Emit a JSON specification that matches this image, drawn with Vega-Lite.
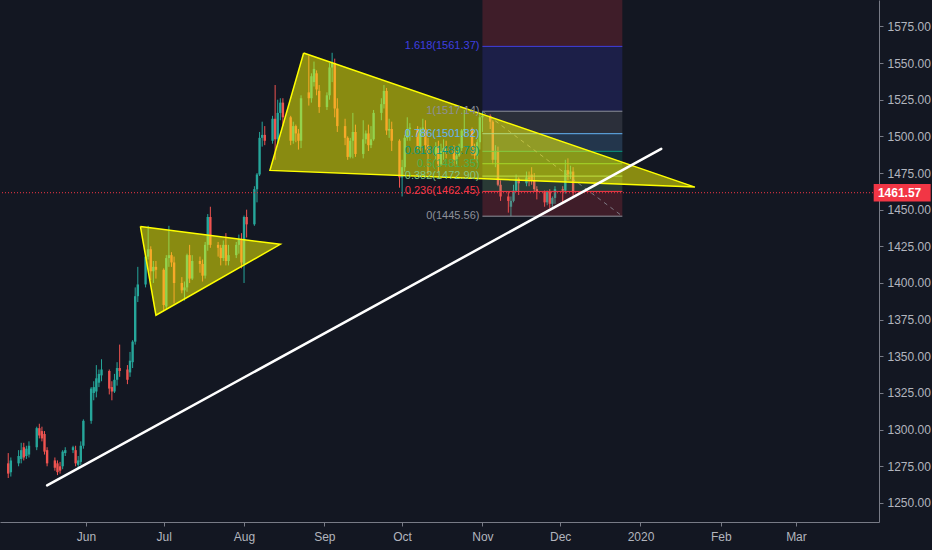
{
  "$schema": "https://vega.github.io/schema/vega-lite/v6.json",
  "width": 879,
  "height": 522,
  "autosize": {"type": "none"},
  "padding": {"left": 0, "top": 0, "right": 53, "bottom": 28},
  "background": "#131722",
  "config": {
    "view": {"stroke": null},
    "font": "Liberation Sans Narrow, Liberation Sans, sans-serif",
    "axis": {
      "grid": false,
      "domainColor": "#787b86",
      "tickColor": "#787b86",
      "labelColor": "#b2b5be",
      "labelFontSize": 12,
      "tickSize": 4
    }
  },
  "datasets": {
    "candles": [
      {"date": "2019-05-02", "open": 1277, "high": 1284, "low": 1267, "close": 1270},
      {"date": "2019-05-03", "open": 1271, "high": 1281, "low": 1268, "close": 1279},
      {"date": "2019-05-06", "open": 1277, "high": 1286, "low": 1275, "close": 1282},
      {"date": "2019-05-07", "open": 1280, "high": 1291, "low": 1277, "close": 1286},
      {"date": "2019-05-08", "open": 1288, "high": 1291, "low": 1279, "close": 1281},
      {"date": "2019-05-09", "open": 1282, "high": 1289, "low": 1280, "close": 1287},
      {"date": "2019-05-10", "open": 1283, "high": 1292, "low": 1281, "close": 1289},
      {"date": "2019-05-13", "open": 1288, "high": 1302, "low": 1286, "close": 1301},
      {"date": "2019-05-14", "open": 1301, "high": 1304, "low": 1294, "close": 1296},
      {"date": "2019-05-15", "open": 1299, "high": 1302, "low": 1292, "close": 1294},
      {"date": "2019-05-16", "open": 1297, "high": 1299, "low": 1283, "close": 1285},
      {"date": "2019-05-17", "open": 1286, "high": 1288, "low": 1275, "close": 1277},
      {"date": "2019-05-20", "open": 1279, "high": 1281, "low": 1272, "close": 1274},
      {"date": "2019-05-21", "open": 1277, "high": 1279, "low": 1269, "close": 1271},
      {"date": "2019-05-22", "open": 1275, "high": 1278, "low": 1270, "close": 1272},
      {"date": "2019-05-23", "open": 1275, "high": 1286, "low": 1273, "close": 1285},
      {"date": "2019-05-24", "open": 1284, "high": 1288, "low": 1282, "close": 1286},
      {"date": "2019-05-27", "open": 1286, "high": 1289, "low": 1284, "close": 1288},
      {"date": "2019-05-28", "open": 1286, "high": 1289, "low": 1275, "close": 1277},
      {"date": "2019-05-29", "open": 1276, "high": 1282, "low": 1274, "close": 1279},
      {"date": "2019-05-30", "open": 1278, "high": 1292, "low": 1276, "close": 1289},
      {"date": "2019-05-31", "open": 1289, "high": 1307, "low": 1287, "close": 1306},
      {"date": "2019-06-03", "open": 1306, "high": 1329, "low": 1304, "close": 1328},
      {"date": "2019-06-04", "open": 1325, "high": 1333, "low": 1320, "close": 1329},
      {"date": "2019-06-05", "open": 1326, "high": 1344, "low": 1322, "close": 1335},
      {"date": "2019-06-06", "open": 1332, "high": 1341, "low": 1329, "close": 1338},
      {"date": "2019-06-07", "open": 1337, "high": 1348, "low": 1333, "close": 1341},
      {"date": "2019-06-10", "open": 1340, "high": 1341, "low": 1324, "close": 1328},
      {"date": "2019-06-11", "open": 1329, "high": 1333, "low": 1320, "close": 1326},
      {"date": "2019-06-12", "open": 1326, "high": 1338, "low": 1325, "close": 1334},
      {"date": "2019-06-13", "open": 1334, "high": 1346, "low": 1330, "close": 1342},
      {"date": "2019-06-14", "open": 1342, "high": 1358, "low": 1336, "close": 1340},
      {"date": "2019-06-17", "open": 1341, "high": 1344, "low": 1331, "close": 1334},
      {"date": "2019-06-18", "open": 1339, "high": 1353, "low": 1336, "close": 1347},
      {"date": "2019-06-19", "open": 1346, "high": 1361, "low": 1342, "close": 1360},
      {"date": "2019-06-20", "open": 1360, "high": 1397, "low": 1358, "close": 1391},
      {"date": "2019-06-21", "open": 1391, "high": 1411, "low": 1387, "close": 1399},
      {"date": "2019-06-24", "open": 1399, "high": 1419, "low": 1397, "close": 1418},
      {"date": "2019-06-25", "open": 1418, "high": 1439, "low": 1416, "close": 1423},
      {"date": "2019-06-26", "open": 1423, "high": 1425, "low": 1402, "close": 1408},
      {"date": "2019-06-27", "open": 1408, "high": 1415, "low": 1400, "close": 1411},
      {"date": "2019-06-28", "open": 1411, "high": 1415, "low": 1403, "close": 1409},
      {"date": "2019-07-01", "open": 1409, "high": 1410, "low": 1381, "close": 1385},
      {"date": "2019-07-02", "open": 1384, "high": 1419, "low": 1382, "close": 1417},
      {"date": "2019-07-03", "open": 1417, "high": 1439, "low": 1411, "close": 1419},
      {"date": "2019-07-04", "open": 1419, "high": 1421, "low": 1411, "close": 1414},
      {"date": "2019-07-05", "open": 1414, "high": 1418, "low": 1386, "close": 1400},
      {"date": "2019-07-08", "open": 1400, "high": 1404, "low": 1393, "close": 1395},
      {"date": "2019-07-09", "open": 1395, "high": 1401, "low": 1388, "close": 1397},
      {"date": "2019-07-10", "open": 1397, "high": 1420, "low": 1394, "close": 1419},
      {"date": "2019-07-11", "open": 1419, "high": 1426, "low": 1400, "close": 1403},
      {"date": "2019-07-12", "open": 1403, "high": 1419, "low": 1402, "close": 1415},
      {"date": "2019-07-15", "open": 1415, "high": 1418, "low": 1407, "close": 1413},
      {"date": "2019-07-16", "open": 1413, "high": 1416, "low": 1401, "close": 1405},
      {"date": "2019-07-17", "open": 1405, "high": 1428, "low": 1403, "close": 1426},
      {"date": "2019-07-18", "open": 1426, "high": 1447, "low": 1422, "close": 1445},
      {"date": "2019-07-19", "open": 1445, "high": 1452, "low": 1424, "close": 1426},
      {"date": "2019-07-22", "open": 1426, "high": 1428, "low": 1418, "close": 1424},
      {"date": "2019-07-23", "open": 1424, "high": 1426, "low": 1412, "close": 1417},
      {"date": "2019-07-24", "open": 1417, "high": 1429, "low": 1415, "close": 1426},
      {"date": "2019-07-25", "open": 1426, "high": 1434, "low": 1412, "close": 1415},
      {"date": "2019-07-26", "open": 1415, "high": 1426, "low": 1412, "close": 1419},
      {"date": "2019-07-29", "open": 1419, "high": 1428, "low": 1417, "close": 1426},
      {"date": "2019-07-30", "open": 1426, "high": 1433, "low": 1420, "close": 1430},
      {"date": "2019-07-31", "open": 1430, "high": 1434, "low": 1410, "close": 1414},
      {"date": "2019-08-01", "open": 1413, "high": 1446, "low": 1400, "close": 1445},
      {"date": "2019-08-02", "open": 1445, "high": 1450, "low": 1431, "close": 1440},
      {"date": "2019-08-05", "open": 1440, "high": 1466, "low": 1439, "close": 1464},
      {"date": "2019-08-06", "open": 1464, "high": 1475, "low": 1455, "close": 1474},
      {"date": "2019-08-07", "open": 1474, "high": 1503, "low": 1473, "close": 1499},
      {"date": "2019-08-08", "open": 1499, "high": 1510, "low": 1493, "close": 1501},
      {"date": "2019-08-09", "open": 1501, "high": 1507, "low": 1494, "close": 1497},
      {"date": "2019-08-12", "open": 1497, "high": 1514, "low": 1495, "close": 1512},
      {"date": "2019-08-13", "open": 1512, "high": 1535, "low": 1484, "close": 1498},
      {"date": "2019-08-14", "open": 1498, "high": 1525, "low": 1495, "close": 1516},
      {"date": "2019-08-15", "open": 1516, "high": 1526, "low": 1511, "close": 1523},
      {"date": "2019-08-16", "open": 1523, "high": 1526, "low": 1507, "close": 1513},
      {"date": "2019-08-19", "open": 1513, "high": 1514, "low": 1494, "close": 1497},
      {"date": "2019-08-20", "open": 1497, "high": 1510, "low": 1495, "close": 1507},
      {"date": "2019-08-21", "open": 1507, "high": 1508, "low": 1496, "close": 1502},
      {"date": "2019-08-22", "open": 1502, "high": 1505, "low": 1491, "close": 1497},
      {"date": "2019-08-23", "open": 1497, "high": 1528, "low": 1492, "close": 1526},
      {"date": "2019-08-26", "open": 1530, "high": 1555, "low": 1521, "close": 1526},
      {"date": "2019-08-27", "open": 1526, "high": 1543, "low": 1523, "close": 1541},
      {"date": "2019-08-28", "open": 1537, "high": 1551, "low": 1534, "close": 1546},
      {"date": "2019-08-29", "open": 1543, "high": 1545, "low": 1528, "close": 1532},
      {"date": "2019-08-30", "open": 1531, "high": 1535, "low": 1516, "close": 1520},
      {"date": "2019-09-02", "open": 1520, "high": 1530, "low": 1518, "close": 1528},
      {"date": "2019-09-03", "open": 1528, "high": 1550, "low": 1525, "close": 1547},
      {"date": "2019-09-04", "open": 1547, "high": 1557, "low": 1537, "close": 1550},
      {"date": "2019-09-05", "open": 1550, "high": 1553, "low": 1513, "close": 1519},
      {"date": "2019-09-06", "open": 1519, "high": 1526, "low": 1503, "close": 1507},
      {"date": "2019-09-09", "open": 1507, "high": 1512, "low": 1494, "close": 1499},
      {"date": "2019-09-10", "open": 1499, "high": 1500, "low": 1484, "close": 1486},
      {"date": "2019-09-11", "open": 1486, "high": 1499, "low": 1485, "close": 1497},
      {"date": "2019-09-12", "open": 1497, "high": 1516, "low": 1485, "close": 1503},
      {"date": "2019-09-13", "open": 1503, "high": 1508, "low": 1486, "close": 1488},
      {"date": "2019-09-16", "open": 1488, "high": 1511, "low": 1485, "close": 1498},
      {"date": "2019-09-17", "open": 1498, "high": 1504, "low": 1495, "close": 1502},
      {"date": "2019-09-18", "open": 1502, "high": 1508, "low": 1490, "close": 1494},
      {"date": "2019-09-19", "open": 1494, "high": 1507, "low": 1492, "close": 1498},
      {"date": "2019-09-20", "open": 1498, "high": 1518, "low": 1497, "close": 1516},
      {"date": "2019-09-23", "open": 1516, "high": 1526, "low": 1511, "close": 1522},
      {"date": "2019-09-24", "open": 1522, "high": 1535, "low": 1519, "close": 1531},
      {"date": "2019-09-25", "open": 1531, "high": 1533, "low": 1501, "close": 1504},
      {"date": "2019-09-26", "open": 1504, "high": 1512, "low": 1499, "close": 1505},
      {"date": "2019-09-27", "open": 1505, "high": 1510, "low": 1490, "close": 1497},
      {"date": "2019-09-30", "open": 1497, "high": 1498, "low": 1465, "close": 1472},
      {"date": "2019-10-01", "open": 1472, "high": 1484, "low": 1459, "close": 1479},
      {"date": "2019-10-02", "open": 1479, "high": 1501, "low": 1476, "close": 1499},
      {"date": "2019-10-03", "open": 1499, "high": 1513, "low": 1497, "close": 1505},
      {"date": "2019-10-04", "open": 1505, "high": 1509, "low": 1497, "close": 1506},
      {"date": "2019-10-07", "open": 1505, "high": 1507, "low": 1491, "close": 1493},
      {"date": "2019-10-08", "open": 1493, "high": 1506, "low": 1490, "close": 1505},
      {"date": "2019-10-09", "open": 1505, "high": 1512, "low": 1500, "close": 1506},
      {"date": "2019-10-10", "open": 1505, "high": 1511, "low": 1491, "close": 1494},
      {"date": "2019-10-11", "open": 1494, "high": 1499, "low": 1474, "close": 1488},
      {"date": "2019-10-14", "open": 1488, "high": 1496, "low": 1484, "close": 1493},
      {"date": "2019-10-15", "open": 1493, "high": 1497, "low": 1476, "close": 1481},
      {"date": "2019-10-16", "open": 1481, "high": 1495, "low": 1480, "close": 1490},
      {"date": "2019-10-17", "open": 1490, "high": 1498, "low": 1484, "close": 1492},
      {"date": "2019-10-18", "open": 1492, "high": 1497, "low": 1485, "close": 1490},
      {"date": "2019-10-21", "open": 1490, "high": 1494, "low": 1480, "close": 1484},
      {"date": "2019-10-22", "open": 1484, "high": 1490, "low": 1481, "close": 1487},
      {"date": "2019-10-23", "open": 1487, "high": 1495, "low": 1486, "close": 1492},
      {"date": "2019-10-24", "open": 1492, "high": 1505, "low": 1490, "close": 1504},
      {"date": "2019-10-25", "open": 1504, "high": 1518, "low": 1500, "close": 1505},
      {"date": "2019-10-28", "open": 1505, "high": 1506, "low": 1487, "close": 1492},
      {"date": "2019-10-29", "open": 1492, "high": 1495, "low": 1484, "close": 1487},
      {"date": "2019-10-30", "open": 1487, "high": 1498, "low": 1482, "close": 1496},
      {"date": "2019-10-31", "open": 1496, "high": 1515, "low": 1491, "close": 1513},
      {"date": "2019-11-01", "open": 1513, "high": 1517, "low": 1503, "close": 1514},
      {"date": "2019-11-04", "open": 1514, "high": 1515, "low": 1505, "close": 1510},
      {"date": "2019-11-05", "open": 1510, "high": 1511, "low": 1481, "close": 1484},
      {"date": "2019-11-06", "open": 1484, "high": 1494, "low": 1479, "close": 1490},
      {"date": "2019-11-07", "open": 1490, "high": 1493, "low": 1466, "close": 1467},
      {"date": "2019-11-08", "open": 1467, "high": 1470, "low": 1456, "close": 1459},
      {"date": "2019-11-11", "open": 1459, "high": 1462, "low": 1448, "close": 1456},
      {"date": "2019-11-12", "open": 1452, "high": 1459, "low": 1445.56, "close": 1456},
      {"date": "2019-11-13", "open": 1456, "high": 1467, "low": 1455, "close": 1463},
      {"date": "2019-11-14", "open": 1463, "high": 1474, "low": 1462, "close": 1471},
      {"date": "2019-11-15", "open": 1471, "high": 1472, "low": 1460, "close": 1468},
      {"date": "2019-11-18", "open": 1468, "high": 1476, "low": 1466, "close": 1472},
      {"date": "2019-11-19", "open": 1472, "high": 1476, "low": 1466, "close": 1471},
      {"date": "2019-11-20", "open": 1474, "high": 1479, "low": 1467, "close": 1470},
      {"date": "2019-11-21", "open": 1470, "high": 1475, "low": 1462, "close": 1464},
      {"date": "2019-11-22", "open": 1464, "high": 1466, "low": 1457, "close": 1462},
      {"date": "2019-11-25", "open": 1462, "high": 1463, "low": 1452, "close": 1455},
      {"date": "2019-11-26", "open": 1455, "high": 1463, "low": 1453, "close": 1462},
      {"date": "2019-11-27", "open": 1462, "high": 1464, "low": 1451, "close": 1454},
      {"date": "2019-11-28", "open": 1454, "high": 1459, "low": 1452, "close": 1458},
      {"date": "2019-11-29", "open": 1458, "high": 1466, "low": 1454, "close": 1464},
      {"date": "2019-12-02", "open": 1464, "high": 1466, "low": 1455, "close": 1463},
      {"date": "2019-12-03", "open": 1463, "high": 1484, "low": 1461, "close": 1477},
      {"date": "2019-12-04", "open": 1477, "high": 1485, "low": 1470, "close": 1474},
      {"date": "2019-12-05", "open": 1474, "high": 1480, "low": 1471, "close": 1476},
      {"date": "2019-12-06", "open": 1476, "high": 1479, "low": 1458, "close": 1461.57}
    ],
    "triangles": [
      {"shape": "flag", "vertex": 1, "date": "2019-06-22", "price": 1438.6},
      {"shape": "flag", "vertex": 2, "date": "2019-06-28", "price": 1378.0},
      {"shape": "flag", "vertex": 3, "date": "2019-08-15", "price": 1426.4},
      {"shape": "flag", "vertex": 4, "date": "2019-06-22", "price": 1438.6},
      {"shape": "wedge", "vertex": 1, "date": "2019-08-24", "price": 1556.8},
      {"shape": "wedge", "vertex": 2, "date": "2019-08-11", "price": 1476.8},
      {"shape": "wedge", "vertex": 3, "date": "2020-01-22", "price": 1465.4},
      {"shape": "wedge", "vertex": 4, "date": "2019-08-24", "price": 1556.8}
    ],
    "trend": [
      {"date": "2019-05-17", "price": 1262.0},
      {"date": "2020-01-09", "price": 1491.5}
    ],
    "zones": [
      {"level": "0.236", "lo": 1445.56, "hi": 1462.45},
      {"level": "0.382", "lo": 1462.45, "hi": 1472.90},
      {"level": "0.5", "lo": 1472.90, "hi": 1481.35},
      {"level": "0.618", "lo": 1481.35, "hi": 1489.79},
      {"level": "0.786", "lo": 1489.79, "hi": 1501.82},
      {"level": "1", "lo": 1501.82, "hi": 1517.14},
      {"level": "1.618", "lo": 1517.14, "hi": 1561.37},
      {"level": "2.618", "lo": 1561.37, "hi": 1632.95}
    ],
    "levels": [
      {"level": "0", "price": 1445.56, "label": "0(1445.56)"},
      {"level": "0.236", "price": 1462.45, "label": "0.236(1462.45)"},
      {"level": "0.382", "price": 1472.90, "label": "0.382(1472.90)"},
      {"level": "0.5", "price": 1481.35, "label": "0.5(1481.35)"},
      {"level": "0.618", "price": 1489.79, "label": "0.618(1489.79)"},
      {"level": "0.786", "price": 1501.82, "label": "0.786(1501.82)"},
      {"level": "1", "price": 1517.14, "label": "1(1517.14)"},
      {"level": "1.618", "price": 1561.37, "label": "1.618(1561.37)"}
    ],
    "fibAnchor": [
      {"from": "2019-11-01", "to": "2019-12-25", "high": 1517.14, "low": 1445.56}
    ],
    "last": [{"price": 1461.57}]
  },
  "layer": [
    {
      "data": {"name": "candles"},
      "mark": {"type": "rule", "strokeWidth": 1},
      "encoding": {
        "x": {
          "field": "date",
          "type": "temporal",
          "title": null,
          "scale": {"domain": [1556647200000, 1585623168000], "nice": false},
          "axis": {
            "values": [
              {"year": 2019, "month": 6, "date": 1, "utc": true},
              {"year": 2019, "month": 7, "date": 1, "utc": true},
              {"year": 2019, "month": 8, "date": 1, "utc": true},
              {"year": 2019, "month": 9, "date": 1, "utc": true},
              {"year": 2019, "month": 10, "date": 1, "utc": true},
              {"year": 2019, "month": 11, "date": 1, "utc": true},
              {"year": 2019, "month": 12, "date": 1, "utc": true},
              {"year": 2020, "month": 1, "date": 1, "utc": true},
              {"year": 2020, "month": 2, "date": 1, "utc": true},
              {"year": 2020, "month": 3, "date": 1, "utc": true}
            ],
            "labelExpr": "utcmonth(datum.value) == 0 ? utcFormat(datum.value, '%Y') : utcFormat(datum.value, '%b')",
            "labelPadding": 5,
            "labelOverlap": false
          }
        },
        "y": {
          "field": "low",
          "type": "quantitative",
          "title": null,
          "scale": {"domain": [1237, 1593], "nice": false, "zero": false},
          "axis": {
            "orient": "right",
            "values": [1250, 1275, 1300, 1325, 1350, 1375, 1400, 1425, 1450, 1475, 1500, 1525, 1550, 1575],
            "format": ".2f",
            "labelPadding": 4
          }
        },
        "y2": {"field": "high"},
        "color": {"condition": {"test": "datum.close >= datum.open", "value": "#26a69a"}, "value": "#ef5350"}
      }
    },
    {
      "data": {"name": "candles"},
      "mark": {"type": "bar", "width": 2.4},
      "encoding": {
        "x": {"field": "date", "type": "temporal", "title": null},
        "y": {"field": "open", "type": "quantitative", "title": null},
        "y2": {"field": "close"},
        "color": {"condition": {"test": "datum.close >= datum.open", "value": "#26a69a"}, "value": "#ef5350"}
      }
    },
    {
      "data": {"name": "zones"},
      "mark": {"type": "rect", "opacity": 0.2, "clip": true},
      "encoding": {
        "x": {"datum": {"year": 2019, "month": 11, "date": 1, "utc": true}},
        "x2": {"datum": {"year": 2019, "month": 12, "date": 25, "utc": true}},
        "y": {"field": "lo", "type": "quantitative", "title": null},
        "y2": {"field": "hi"},
        "color": {
          "field": "level",
          "type": "nominal",
          "legend": null,
          "scale": {
            "domain": ["0", "0.236", "0.382", "0.5", "0.618", "0.786", "1", "1.618", "2.618"],
            "range": ["#8d909a", "#f23645", "#81c784", "#4caf50", "#089981", "#64b5f6", "#8d909a", "#3f3fe0", "#f23645"]
          }
        }
      }
    },
    {
      "data": {"name": "levels"},
      "mark": {"type": "rule", "strokeWidth": 1},
      "encoding": {
        "x": {"datum": {"year": 2019, "month": 11, "date": 1, "utc": true}},
        "x2": {"datum": {"year": 2019, "month": 12, "date": 25, "utc": true}},
        "y": {"field": "price", "type": "quantitative", "title": null},
        "color": {"field": "level", "type": "nominal", "legend": null}
      }
    },
    {
      "data": {"name": "fibAnchor"},
      "mark": {"type": "rule", "strokeWidth": 1, "strokeDash": [4, 4], "color": "#8d909a", "opacity": 0.8},
      "encoding": {
        "x": {"field": "from", "type": "temporal", "title": null},
        "x2": {"field": "to"},
        "y": {"field": "high", "type": "quantitative", "title": null},
        "y2": {"field": "low"}
      }
    },
    {
      "data": {"name": "triangles"},
      "mark": {"type": "line", "fill": "#ffff00", "fillOpacity": 0.5, "stroke": "#ffff00", "strokeWidth": 1.5},
      "encoding": {
        "x": {"field": "date", "type": "temporal", "title": null},
        "y": {"field": "price", "type": "quantitative", "title": null},
        "detail": {"field": "shape"},
        "order": {"field": "vertex"}
      }
    },
    {
      "data": {"name": "levels"},
      "mark": {"type": "text", "align": "right", "baseline": "middle", "dx": -3, "fontSize": 11},
      "encoding": {
        "x": {"datum": {"year": 2019, "month": 11, "date": 1, "utc": true}},
        "y": {"field": "price", "type": "quantitative", "title": null},
        "text": {"field": "label"},
        "color": {"field": "level", "type": "nominal", "legend": null}
      }
    },
    {
      "data": {"name": "last"},
      "mark": {"type": "rule", "strokeWidth": 1, "strokeDash": [1, 2], "color": "#f23645"},
      "encoding": {
        "y": {"field": "price", "type": "quantitative", "title": null}
      }
    },
    {
      "data": {"name": "trend"},
      "mark": {"type": "line", "color": "#ffffff", "strokeWidth": 2.5, "strokeCap": "round"},
      "encoding": {
        "x": {"field": "date", "type": "temporal", "title": null},
        "y": {"field": "price", "type": "quantitative", "title": null}
      }
    },
    {
      "data": {"name": "last"},
      "mark": {"type": "rect", "color": "#f23645"},
      "encoding": {
        "x": {"datum": {"year": 2020, "month": 3, "date": 31, "utc": true}},
        "x2": {"datum": {"year": 2020, "month": 4, "date": 22, "utc": true}},
        "y": {"datum": 1467.5},
        "y2": {"datum": 1455.6}
      }
    },
    {
      "data": {"name": "last"},
      "mark": {"type": "text", "align": "center", "baseline": "middle", "color": "#ffffff", "fontSize": 12, "fontWeight": "bold"},
      "encoding": {
        "x": {"datum": {"year": 2020, "month": 4, "date": 10, "utc": true}},
        "y": {"field": "price", "type": "quantitative", "title": null},
        "text": {"field": "price", "format": ".2f"}
      }
    }
  ]
}
